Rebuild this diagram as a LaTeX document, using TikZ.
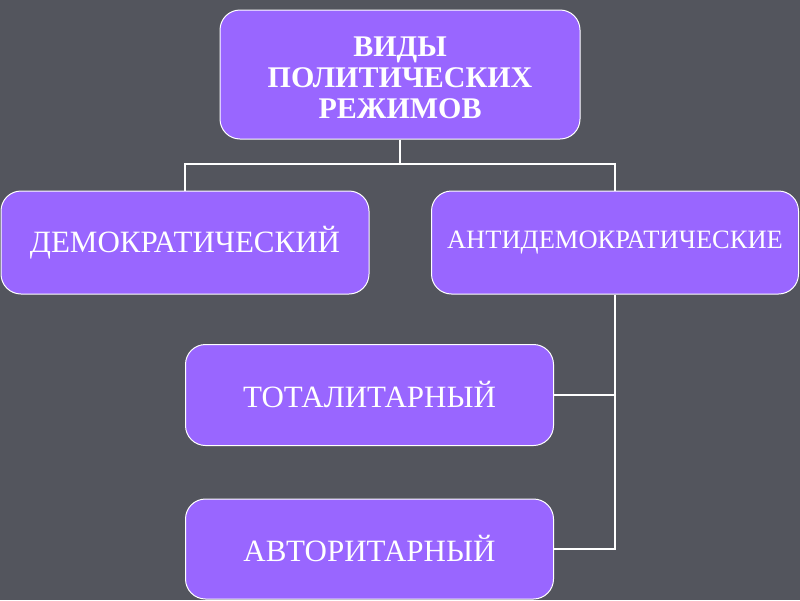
\documentclass[tikz,border=0pt]{standalone}
\usepackage{fontspec}
\setmainfont{Liberation Serif}
\definecolor{bg}{HTML}{53555D}
\definecolor{boxfill}{HTML}{9966FF}
\begin{document}
\begin{tikzpicture}[x=1pt,y=-1pt,
  box/.style={draw=white,line width=1pt,fill=boxfill,rounded corners=20pt,
    text=white,align=center,inner sep=0pt},
  conn/.style={draw=white,line width=2pt}]
\fill[bg] (0,0) rectangle (800,600);
\useasboundingbox (0,0) rectangle (800,600);
\node[box,minimum width=360pt,minimum height=129pt] (top) at (400,74.5) {};
\node[text=white,align=center,inner sep=0pt,
  font={\fontsize{30}{31}\selectfont\bfseries}] (toptext) at (400,77.5)
  {ВИДЫ\\ПОЛИТИЧЕСКИХ\\РЕЖИМОВ};
\node[box,minimum width=368pt,minimum height=103pt,
  font={\fontsize{31}{34}\selectfont}] (dem) at (185,242.5) {ДЕМОКРАТИЧЕСКИЙ};
\node[box,minimum width=367pt,minimum height=103pt,
  font={\fontsize{26.5}{30}\selectfont}] (anti) at (615,242.5) {АНТИДЕМОКРАТИЧЕСКИЕ};
\node[box,minimum width=368pt,minimum height=101pt,
  font={\fontsize{31}{34}\selectfont}] (tot) at (369.5,395) {ТОТАЛИТАРНЫЙ};
\node[box,minimum width=368pt,minimum height=100pt,
  font={\fontsize{31}{34}\selectfont}] (aut) at (369.5,549) {АВТОРИТАРНЫЙ};
\coordinate (bus) at (400,164);
\draw[conn] (top.south) -- (bus);
\draw[conn] (dem.north) |- (bus) -| (anti.north);
\draw[conn] (anti.south) |- (aut.east);
\draw[conn] (tot.east) -- (tot.east -| anti.south);
\end{tikzpicture}
\end{document}
